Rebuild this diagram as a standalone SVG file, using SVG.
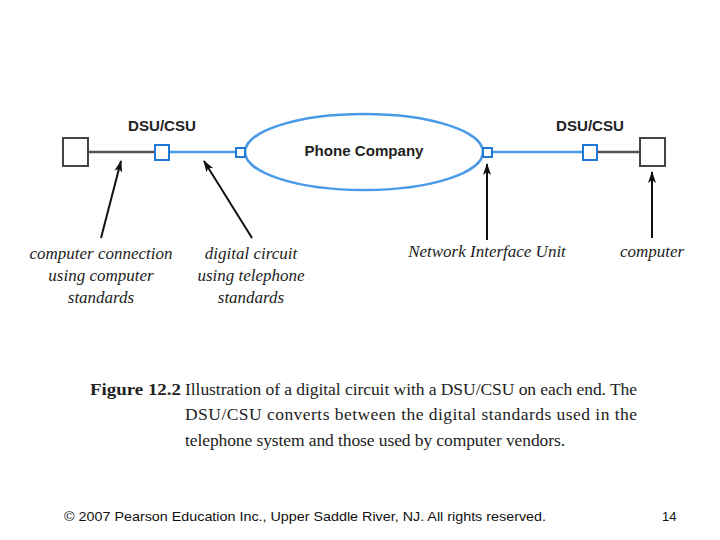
<svg xmlns="http://www.w3.org/2000/svg" width="720" height="540" viewBox="0 0 720 540">
<style>
.comp{fill:#fff;stroke:#444;stroke-width:2}
.dsu{fill:#fff;stroke:#1f78d6;stroke-width:2}
.wire{stroke:#555;stroke-width:2.5}
.blue{stroke:#4a9ae8;stroke-width:2.5;fill:none}
.lbl{font-family:"Liberation Sans",Arial,sans-serif;font-weight:bold;font-size:15px;fill:#222;text-anchor:middle}
.note{font-family:"Liberation Serif","Times New Roman",serif;font-style:italic;font-size:17px;fill:#222;text-anchor:middle}
.cap{font-family:"Liberation Serif","Times New Roman",serif;font-size:17.5px;fill:#222}
.arr{stroke:#111;stroke-width:2;fill:none;marker-end:url(#ah)}
</style>
<defs>
<marker id="ah" viewBox="0 0 12 8" refX="11" refY="4" markerWidth="12" markerHeight="8" markerUnits="userSpaceOnUse" orient="auto">
<path d="M0,0 L12,4 L0,8 L3,4 Z" fill="#111"/>
</marker>
</defs>
<rect width="720" height="540" fill="#fff"/>
<g id="connectors">
<line class="wire" x1="88" y1="152" x2="155" y2="152"/>
<line class="blue" x1="169" y1="152" x2="236" y2="152"/>
<line class="blue" x1="493" y1="152" x2="583" y2="152"/>
<line class="wire" x1="597" y1="152" x2="640" y2="152"/>
<line class="arr" x1="101" y1="238" x2="121" y2="161"/>
<line class="arr" x1="252" y1="238" x2="204" y2="161"/>
<line class="arr" x1="487" y1="240" x2="487" y2="164"/>
<line class="arr" x1="652" y1="238" x2="652" y2="172"/>
</g>
<g id="phone-company">
<ellipse class="blue" cx="364" cy="152" rx="119" ry="38"/>
<text class="lbl" x="364" y="156" textLength="119" lengthAdjust="spacingAndGlyphs">Phone Company</text>
</g>
<g id="computer-left"><rect class="comp" x="63" y="138" width="25" height="28"/></g>
<g id="dsu-left">
<rect class="dsu" x="155" y="145" width="14" height="15"/>
<text class="lbl" x="162" y="131" textLength="68" lengthAdjust="spacingAndGlyphs">DSU/CSU</text>
</g>
<g id="niu-left"><rect class="dsu" x="236" y="148" width="9" height="9"/></g>
<g id="niu-right"><rect class="dsu" x="483" y="148" width="9" height="9"/></g>
<g id="dsu-right">
<rect class="dsu" x="583" y="145" width="14" height="15"/>
<text class="lbl" x="590" y="131" textLength="68" lengthAdjust="spacingAndGlyphs">DSU/CSU</text>
</g>
<g id="computer-right"><rect class="comp" x="640" y="138" width="25" height="28"/></g>
<g id="labels">
<text class="note" x="101" y="259">computer connection</text>
<text class="note" x="101" y="281">using computer</text>
<text class="note" x="101" y="303">standards</text>
<text class="note" x="251" y="259">digital circuit</text>
<text class="note" x="251" y="281">using telephone</text>
<text class="note" x="251" y="303">standards</text>
<text class="note" x="487" y="257">Network Interface Unit</text>
<text class="note" x="652" y="257">computer</text>
</g>
<g id="caption">
<text class="cap" x="90" y="395" font-weight="bold" textLength="91" lengthAdjust="spacingAndGlyphs">Figure 12.2</text>
<text class="cap" x="185" y="395" textLength="452" lengthAdjust="spacing">Illustration of a digital circuit with a DSU/CSU on each end. The</text>
<text class="cap" x="185" y="420" textLength="452" lengthAdjust="spacing">DSU/CSU converts between the digital standards used in the</text>
<text class="cap" x="185" y="446" textLength="380" lengthAdjust="spacing">telephone system and those used by computer vendors.</text>
</g>
<g id="footer">
<text x="64" y="521" font-family="'Liberation Sans',Arial,sans-serif" font-size="13" fill="#111" textLength="482" lengthAdjust="spacingAndGlyphs">© 2007 Pearson Education Inc., Upper Saddle River, NJ. All rights reserved.</text>
<text x="662" y="521" font-family="'Liberation Sans',Arial,sans-serif" font-size="13" fill="#111">14</text>
</g>
</svg>
